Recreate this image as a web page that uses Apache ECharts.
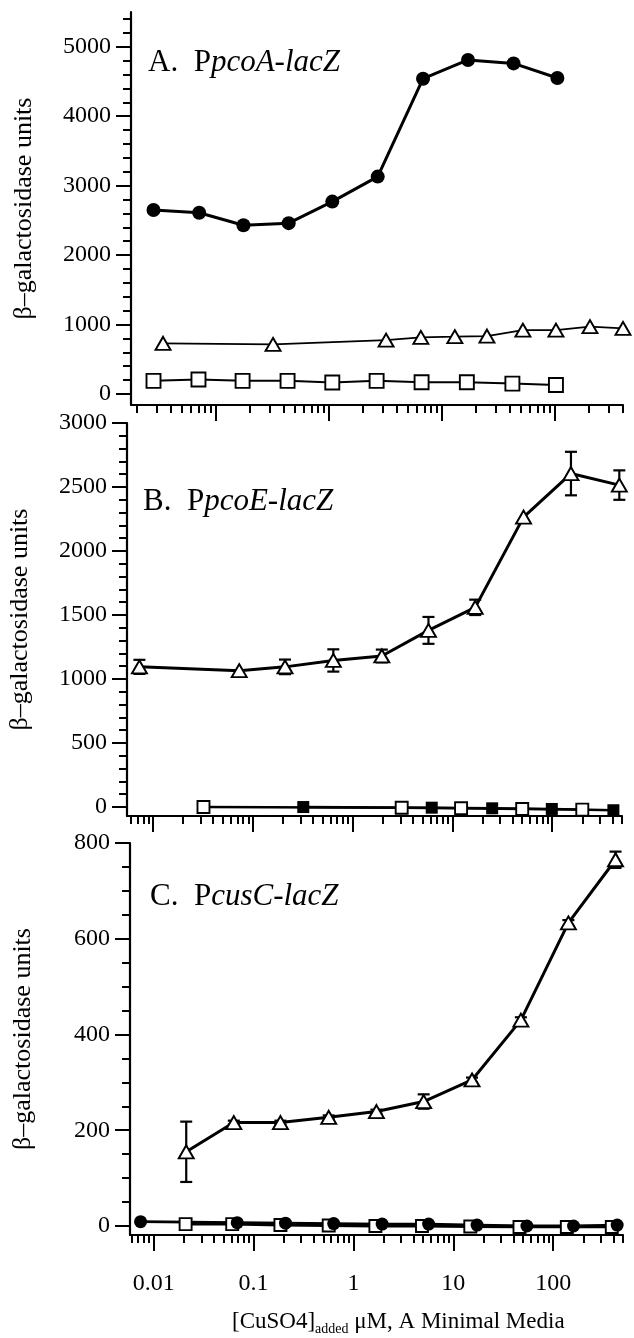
<!DOCTYPE html>
<html>
<head>
<meta charset="utf-8">
<script src="https://cdn.jsdelivr.net/npm/echarts@6/dist/echarts.min.js"></script>
<style>
  html, body { margin: 0; padding: 0; background: #fff; }
  #chart { width: 634px; height: 1338px; }
</style>
</head>
<body>
<div id="chart"></div>
<script>
// A. PpcoA-lacZ
const aCircleX = [0.028, 0.071, 0.175, 0.44, 1.07, 2.7, 6.8, 17, 43, 105];
const aCircleY = [2650, 2610, 2430, 2460, 2770, 3130, 4540, 4810, 4760, 4550];
const aSquareX = [0.028, 0.07, 0.172, 0.43, 1.07, 2.64, 6.6, 16.6, 42, 102];
const aSquareY = [190, 210, 190, 190, 165, 190, 170, 170, 150, 130];
const aTriX = [0.034, 0.32, 3.2, 6.5, 13, 25, 52, 102, 204, 400];
const aTriY = [730, 715, 775, 815, 825, 835, 920, 920, 970, 945];

// B. PpcoE-lacZ
const bTriX = [0.0073, 0.073, 0.21, 0.64, 1.96, 5.75, 16.9, 51.6, 154, 470];
const bTriY = [1095, 1065, 1095, 1145, 1180, 1380, 1560, 2265, 2605, 2515];
const bTriErr = [55, 0, 57, 87, 50, 105, 60, 0, 170, 115];
const bOpenX = [0.032, 3.1, 12.2, 50, 200];
const bOpenY = [0, -5, -10, -15, -20];
const bFilledX = [0.32, 6.2, 25, 99, 410];
const bFilledY = [0, -5, -10, -15, -25];

// C. PcusC-lacZ
const cTriX = [0.0212, 0.0635, 0.186, 0.566, 1.7, 5.05, 15.4, 47.5, 142, 421];
const cTriY = [155, 216, 216, 227, 239, 260, 305, 430, 633, 765];
const cTriErr = [63, 4, 4, 4, 4, 15, 5, 6, 6, 17];
const cSquareX = [0.0209, 0.0612, 0.186, 0.566, 1.66, 4.86, 14.8, 46, 137, 386];
const cSquareY = [4, 4, 2, 1, 0, 0, -1, -2, -2, -2];
const cCircleX = [0.0074, 0.0687, 0.209, 0.635, 1.94, 5.66, 17.3, 54.6, 160, 437];
const cCircleY = [9, 7, 6, 5, 4, 4, 2, 0, 0, 2];

// ticks
const xMajorA = [0.1, 1, 10, 100];
const xMajorBC = [0.01, 0.1, 1, 10, 100];
const xLabelsC = [0.01, 0.1, 1, 10, 100];
const yMajorA = [0, 1000, 2000, 3000, 4000, 5000];
const yMajorB = [0, 500, 1000, 1500, 2000, 2500, 3000];
const yMajorC = [0, 200, 400, 600, 800];

const font = '"Liberation Serif", "DejaVu Serif", serif';
const black = '#000';

const pairs = (xs, ys) => xs.map((x, i) => [x, ys[i]]);
const triples = (xs, ys, es) => xs.map((x, i) => [x, ys[i], es[i]]);
const plain = v => String(+(+v).toPrecision(4));

function logMinor(min, max) {
  const out = [];
  for (let d = 0.001; d <= 1000; d *= 10) {
    for (let k = 2; k <= 9; k++) {
      const v = +(d * k).toPrecision(3);
      if (v >= min && v <= max) out.push(v);
    }
  }
  return out;
}
function linMinor(step, max, major) {
  const out = [];
  for (let v = step; v <= max; v += step) if (major.indexOf(v) < 0) out.push(v);
  return out;
}

const tickLine = { color: black, width: 2 };

function xAxes(grid, min, max, major, labels) {
  return [
    {
      type: 'log', logBase: 10, gridIndex: grid, min: min, max: max, position: 'bottom',
      axisLine: { show: true, onZero: false, lineStyle: { color: black, width: 2.2 } },
      axisTick: { show: true, length: 16, customValues: major, lineStyle: tickLine },
      axisLabel: {
        show: !!labels, customValues: labels || major, margin: 37,
        fontFamily: font, fontSize: 24, color: black, formatter: plain
      },
      splitLine: { show: false }, minorTick: { show: false }
    },
    {
      type: 'log', logBase: 10, gridIndex: grid, min: min, max: max, position: 'bottom',
      axisLine: { show: false, onZero: false },
      axisTick: { show: true, length: 8, customValues: logMinor(min, max), lineStyle: tickLine },
      axisLabel: { show: false }, splitLine: { show: false }
    }
  ];
}

function yAxes(grid, min, max, major, minor) {
  return [
    {
      type: 'value', gridIndex: grid, min: min, max: max, position: 'left',
      name: 'β–galactosidase units', nameLocation: 'middle', nameRotate: 90, nameGap: 94,
      nameTextStyle: { fontFamily: font, fontSize: 26, color: black },
      axisLine: { show: true, onZero: false, lineStyle: { color: black, width: 2.2 } },
      axisTick: { show: true, length: 15, customValues: major, lineStyle: tickLine },
      axisLabel: { customValues: major, margin: 20, fontFamily: font, fontSize: 24, color: black, formatter: plain },
      splitLine: { show: false }
    },
    {
      type: 'value', gridIndex: grid, min: min, max: max, position: 'left',
      axisLine: { show: false, onZero: false },
      axisTick: { show: true, length: 8, customValues: minor, lineStyle: tickLine },
      axisLabel: { show: false }, splitLine: { show: false }
    }
  ];
}

function lineSeries(axis, data, symbol, size, filled, width) {
  return {
    type: 'line', xAxisIndex: axis * 2, yAxisIndex: axis * 2, data: data,
    symbol: symbol, symbolSize: size, showAllSymbol: true, clip: false,
    itemStyle: { color: filled ? black : '#fff', borderColor: black, borderWidth: filled ? 0 : 1.9 },
    lineStyle: { color: black, width: width },
    emphasis: { disabled: true }
  };
}

function errSeries(axis, data) {
  return {
    type: 'custom', xAxisIndex: axis * 2, yAxisIndex: axis * 2, data: data,
    encode: { x: 0, y: 1 }, clip: false, z: 3,
    renderItem: function (params, api) {
      const x = api.value(0), y = api.value(1), e = api.value(2);
      if (!e) return null;
      const hi = api.coord([x, y + e]);
      const lo = api.coord([x, y - e]);
      const w = 6;
      const style = { stroke: black, lineWidth: 2.2 };
      return {
        type: 'group',
        children: [
          { type: 'line', shape: { x1: hi[0], y1: hi[1], x2: lo[0], y2: lo[1] }, style: style },
          { type: 'line', shape: { x1: hi[0] - w, y1: hi[1], x2: hi[0] + w, y2: hi[1] }, style: style },
          { type: 'line', shape: { x1: lo[0] - w, y1: lo[1], x2: lo[0] + w, y2: lo[1] }, style: style }
        ]
      };
    }
  };
}

const richLabel = {
  n: { fontFamily: font, fontSize: 31, fontWeight: 'normal', color: black },
  i: { fontFamily: font, fontSize: 31, fontWeight: 'normal', fontStyle: 'italic', color: black }
};

const chart = echarts.init(document.getElementById('chart'), null, { renderer: 'canvas' });
chart.setOption({
  animation: false,
  backgroundColor: '#fff',
  title: [
    { text: '{n|A.  P}{i|pcoA-lacZ}', left: 148, top: 47, padding: 0, textStyle: { fontWeight: 'normal', rich: richLabel } },
    { text: '{n|B.  P}{i|pcoE-lacZ}', left: 143, top: 486, padding: 0, textStyle: { fontWeight: 'normal', rich: richLabel } },
    { text: '{n|C.  P}{i|cusC-lacZ}', left: 150, top: 881, padding: 0, textStyle: { fontWeight: 'normal', rich: richLabel } },
    {
      text: '{a|[CuSO4]}{s|added}{a| μM, A Minimal Media}', left: 232, top: 1308, padding: 0,
      textStyle: {
        fontWeight: 'normal',
        rich: {
          a: { fontFamily: font, fontSize: 23, fontWeight: 'normal', lineHeight: 28, color: black },
          s: { fontFamily: font, fontSize: 14, fontWeight: 'normal', lineHeight: 14, verticalAlign: 'bottom', color: black }
        }
      }
    }
  ],
  grid: [
    { left: 131, right: 11, top: 12, height: 393, containLabel: false, outerBoundsMode: 'none' },
    { left: 127, right: 12, top: 423, height: 393, containLabel: false, outerBoundsMode: 'none' },
    { left: 130, right: 11, top: 843, height: 392, containLabel: false, outerBoundsMode: 'none' }
  ],
  xAxis: [].concat(
    xAxes(0, 0.0177, 400, xMajorA, null),
    xAxes(1, 0.00548, 500, xMajorBC, null),
    xAxes(2, 0.0058, 500, xMajorBC, xLabelsC)
  ),
  yAxis: [].concat(
    yAxes(0, -158, 5500, yMajorA, linMinor(200, 5400, yMajorA)),
    yAxes(1, -70, 3000, yMajorB, linMinor(100, 3000, yMajorB)),
    yAxes(2, -18.8, 800, yMajorC, linMinor(50, 800, yMajorC))
  ),
  series: [
    lineSeries(0, pairs(aSquareX, aSquareY), 'rect', 14, false, 2),
    lineSeries(0, pairs(aTriX, aTriY), 'triangle', [15, 13], false, 1.8),
    lineSeries(0, pairs(aCircleX, aCircleY), 'circle', 14, true, 3),

    lineSeries(1, pairs(bOpenX, bOpenY), 'rect', 12, false, 2.4),
    lineSeries(1, pairs(bFilledX, bFilledY), 'rect', 12, true, 2.4),
    lineSeries(1, pairs(bTriX, bTriY), 'triangle', [15, 13], false, 3),
    errSeries(1, triples(bTriX, bTriY, bTriErr)),

    lineSeries(2, pairs(cSquareX, cSquareY), 'rect', 12, false, 2.8),
    lineSeries(2, pairs(cCircleX, cCircleY), 'circle', 13, true, 2.8),
    lineSeries(2, pairs(cTriX, cTriY), 'triangle', [15, 13], false, 3),
    errSeries(2, triples(cTriX, cTriY, cTriErr))
  ]
});
</script>
</body>
</html>
